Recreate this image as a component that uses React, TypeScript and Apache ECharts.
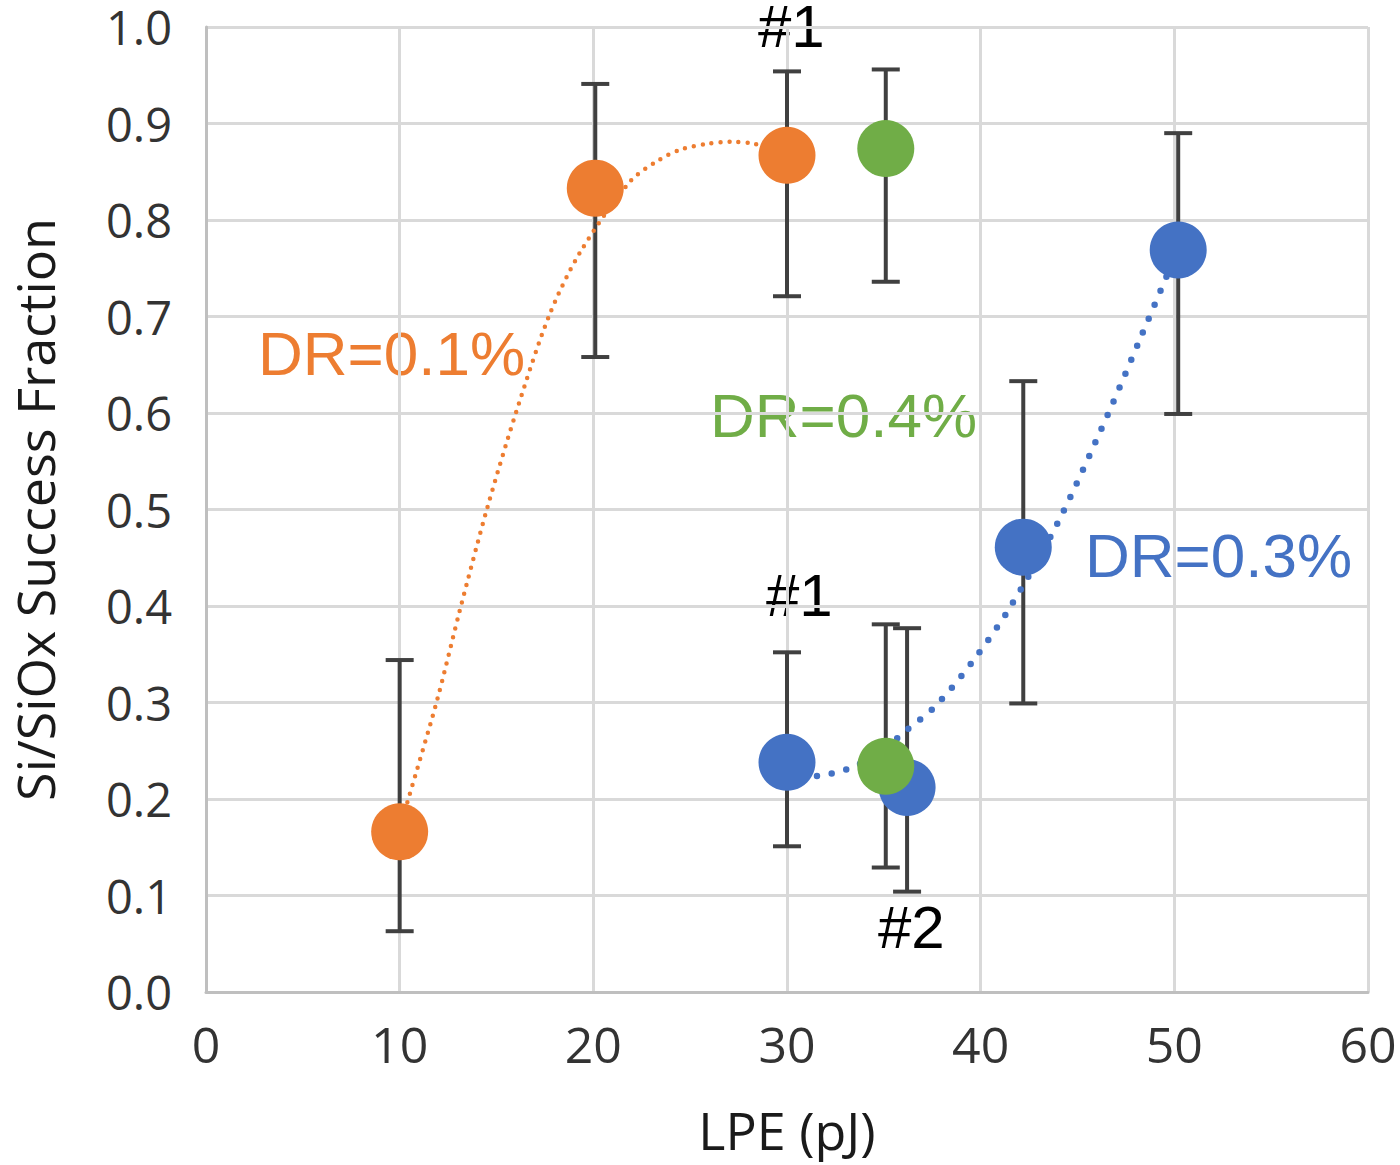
import React, { useEffect, useRef } from 'react'
import * as echarts from 'echarts'

// measured points [LPE, fraction]
const orangePoints = [[10, 0.166], [20.1, 0.833], [30, 0.867]]
const greenPoints = [[35.1, 0.874], [35.1, 0.234]]
const bluePoints = [[30, 0.238], [36.2, 0.212], [42.2, 0.461], [50.2, 0.769]]

// error bars [LPE, low, high]
const orangeErrors = [[10, 0.063, 0.344], [20.1, 0.658, 0.941], [30, 0.721, 0.954]]
const greenErrors = [[35.1, 0.736, 0.956], [35.1, 0.129, 0.381]]
const blueErrors = [[30, 0.151, 0.352], [36.2, 0.104, 0.377], [42.2, 0.299, 0.633], [50.2, 0.599, 0.890]]

// dotted guide curves
const orangeTrend = [
  [10, 0.17], [11.9, 0.30], [13.1, 0.395], [14.5, 0.50], [16.0, 0.60], [17.7, 0.70],
  [19.3, 0.766], [21.9, 0.84], [23.3, 0.861], [24.5, 0.873], [25.9, 0.879], [27.1, 0.881],
  [28.3, 0.879], [30, 0.867],
]
const blueTrend = [
  [30, 0.222], [31.8, 0.2245], [33.4, 0.233], [34.9, 0.25], [36.1, 0.27], [37.7, 0.297],
  [39.6, 0.343], [41.5, 0.398], [44.0, 0.487], [46.6, 0.60], [48.3, 0.68], [50.2, 0.77],
]

const xTicks = [0, 10, 20, 30, 40, 50, 60]
const yTicks = [0, 0.1, 0.2, 0.3, 0.4, 0.5, 0.6, 0.7, 0.8, 0.9, 1.0]

const ORANGE = '#ED7D31'
const GREEN = '#70AD47'
const BLUE = '#4472C4'
const BAR = '#404040'
const GRID = '#d9d9d9'
const TICK_FONT = '"Open Sans", "Noto Sans", sans-serif'
const NOTE_FONT = '"Liberation Sans", Arial, sans-serif'

const errorSeries = (data: number[][]) => ({
  type: 'custom',
  data,
  z: 1,
  encode: { x: 0, y: [1, 2] },
  renderItem: (params: any, api: any) => {
    const x = api.value(0)
    const top = api.coord([x, api.value(2)])
    const bot = api.coord([x, api.value(1)])
    const hw = 14
    const style = { stroke: BAR, lineWidth: 4 }
    return {
      type: 'group',
      children: [
        { type: 'line', shape: { x1: top[0], y1: top[1], x2: bot[0], y2: bot[1] }, style },
        { type: 'line', shape: { x1: top[0] - hw, y1: top[1], x2: top[0] + hw, y2: top[1] }, style },
        { type: 'line', shape: { x1: bot[0] - hw, y1: bot[1], x2: bot[0] + hw, y2: bot[1] }, style },
      ],
    }
  },
})

const dots = (data: number[][], color: string, z: number) => ({
  type: 'scatter',
  data,
  z,
  symbol: 'circle',
  symbolSize: 57,
  itemStyle: { color, opacity: 1 },
})

const trend = (data: number[][], color: string, width: number, dash: number[]) => ({
  type: 'line',
  data,
  z: 2,
  smooth: 0.3,
  showSymbol: false,
  symbol: 'none',
  lineStyle: { color, width, type: dash, cap: 'round' },
})

const note = (text: string, x: number, y: number, color: string, size: number) => ({
  type: 'text',
  left: x,
  top: y - size * 0.4 - 7,
  style: { text, fill: color, font: `${size}px ${NOTE_FONT}`, lineHeight: size * 0.8 },
})

const App: React.FC = () => {
  const chartRef = useRef<HTMLDivElement>(null)

  useEffect(() => {
    if (!chartRef.current) return
    const chart = echarts.init(chartRef.current, null, { renderer: 'svg' })
    chart.setOption({
      animation: false,
      backgroundColor: '#ffffff',
      grid: { left: 206, right: 32, top: 27, bottom: 173, outerBoundsMode: 'none' },
      xAxis: {
        type: 'value',
        min: xTicks[0],
        max: xTicks[xTicks.length - 1],
        interval: 10,
        name: 'LPE (pJ)',
        nameLocation: 'middle',
        nameGap: 111,
        nameTextStyle: { fontFamily: TICK_FONT, fontSize: 52, color: '#1a1a1a' },
        axisLine: { show: true, lineStyle: { color: '#bfbfbf', width: 3 } },
        axisTick: { show: false },
        axisLabel: { fontFamily: TICK_FONT, fontSize: 50, color: '#333333', margin: 27 },
        splitLine: { show: true, lineStyle: { color: GRID, width: 3 } },
      },
      yAxis: {
        type: 'value',
        min: yTicks[0],
        max: yTicks[yTicks.length - 1],
        interval: 0.1,
        name: 'Si/SiOx Success Fraction',
        nameLocation: 'middle',
        nameGap: 150,
        nameTextStyle: { fontFamily: TICK_FONT, fontSize: 52, color: '#1a1a1a', lineHeight: 44 },
        axisLine: { show: true, lineStyle: { color: '#bfbfbf', width: 3 } },
        axisTick: { show: false },
        axisLabel: {
          fontFamily: TICK_FONT,
          fontSize: 47,
          lineHeight: 36,
          color: '#333333',
          margin: 34,
          formatter: (v: number) => v.toFixed(1),
        },
        splitLine: { show: true, lineStyle: { color: GRID, width: 3 } },
      },
      series: [
        errorSeries(orangeErrors),
        errorSeries(blueErrors),
        errorSeries(greenErrors),
        trend(orangeTrend, ORANGE, 4.5, [0, 9]),
        trend(blueTrend, BLUE, 6.5, [0, 15]),
        dots(orangePoints, ORANGE, 3),
        dots(bluePoints, BLUE, 3),
        dots(greenPoints, GREEN, 4),
      ],
      graphic: [
        note('DR=0.1%', 258, 354, ORANGE, 62),
        note('DR=0.4%', 710, 416, GREEN, 62),
        note('DR=0.3%', 1085, 556, BLUE, 62),
        note('#1', 758, 27, '#000000', 60),
        note('#1', 766, 596, '#000000', 60),
        note('#2', 878, 928, '#000000', 60),
      ],
    })
    return () => {
      chart.dispose()
    }
  }, [])

  return (
    <div
      ref={chartRef}
      style={{ position: 'fixed', left: 0, top: 0, width: 1400, height: 1165 }}
    />
  )
}

export default App
